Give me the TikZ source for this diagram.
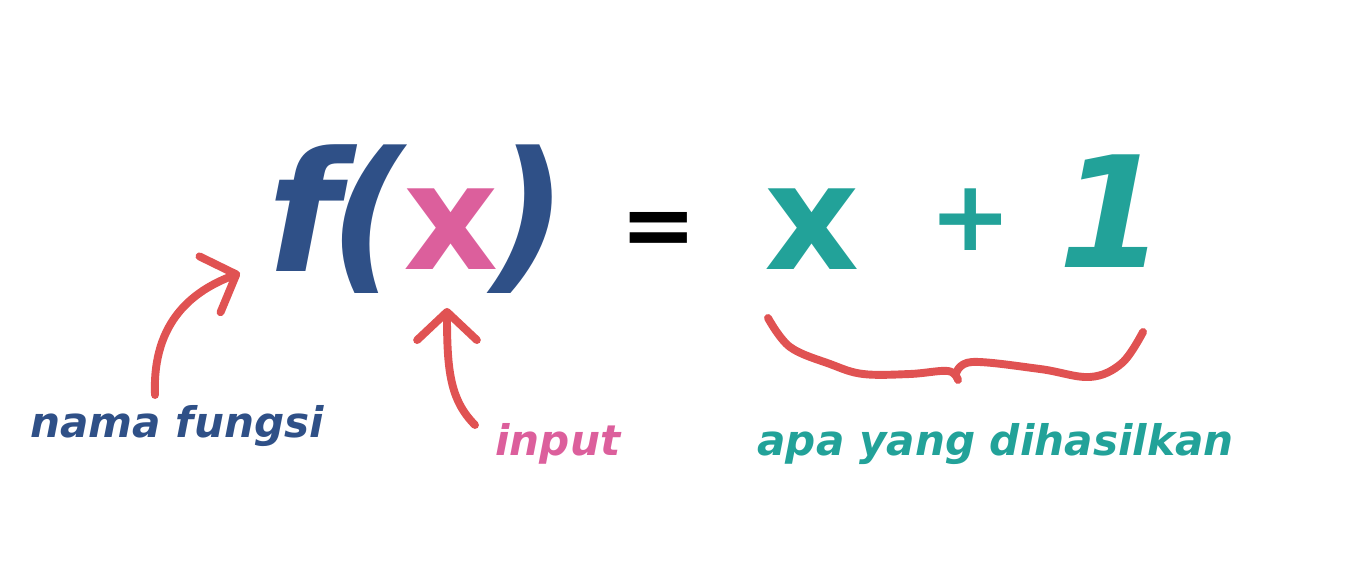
\documentclass[tikz,border=0pt]{standalone}
\usepackage{fontspec}
\setmainfont{DejaVu Sans}
\usepackage{xcolor}
\usetikzlibrary{arrows.meta}

\definecolor{fnblue}{HTML}{2F5087}
\definecolor{inpink}{HTML}{DC5F9C}
\definecolor{outteal}{HTML}{22A299}
\definecolor{markred}{HTML}{E05252}

\begin{document}
\begin{tikzpicture}[
    x=0.02cm, y=-0.02cm,
    glyph/.style={anchor=base, inner sep=0pt, font=\fontsize{95}{95}\selectfont\bfseries\itshape},
    xglyph/.style={anchor=base, inner sep=0pt, font=\fontsize{84}{84}\selectfont\bfseries},
    label/.style={anchor=base west, inner sep=0pt, font=\fontsize{24}{28}\selectfont\bfseries\itshape},
    hand/.style={draw=markred, line width=4.5pt, line cap=round, line join=round},
    handarrow/.style={hand, -{Straight Barb[round, length=16pt, width=34pt]}}
]
\useasboundingbox (0,0) rectangle (1352,577);

% the formula
\node[glyph, text=fnblue] (fname) at (304,272) {f};
\node[glyph, text=fnblue] (lparen) at (368,272) {(};
\node[xglyph, text=inpink] (xin) at (451,270) {x};
\node[glyph, text=fnblue] (rparen) at (530,272) {)};
\node[anchor=base, inner sep=0pt, font=\fontsize{52}{52}\selectfont\bfseries] (eqsign) at (659,257) {=};
\node[xglyph, text=outteal] (xout) at (812,270) {x};
\node[anchor=base, inner sep=0pt, font=\fontsize{56}{56}\selectfont\bfseries, text=outteal] (plussign) at (971,251) {+};
\node[glyph, text=outteal, font=\fontsize{88}{88}\selectfont\bfseries\itshape] (one) at (1112,268) {1};

% the labels
\node[label, text=fnblue] (namelbl) at (30,438) {nama fungsi};
\node[label, text=inpink] (inputlbl) at (495,455) {input};
\node[label, text=outteal] (resultlbl) at (757,455) {apa yang dihasilkan};

\coordinate (nametail) at (155,395);
\coordinate (namehead) at (240,273);
\coordinate (inputtail) at (475,425);
\coordinate (inputhead) at (447,308);

% hand-drawn pointers
\draw[handarrow] (nametail) .. controls (152,320) and (195,290) .. (namehead);
\draw[handarrow] (inputtail) .. controls (450,400) and (447,370) .. (inputhead);

% brace under x + 1
\draw[hand] plot[smooth, tension=0.6] coordinates {(768,318) (790,347) (830,364) (863,374) (910,374) (948,371) (958,380)};
\draw[hand] plot[smooth, tension=0.6] coordinates {(956,374) (972,362) (1040,369) (1090,377) (1122,363) (1143,332)};

\end{tikzpicture}
\end{document}
